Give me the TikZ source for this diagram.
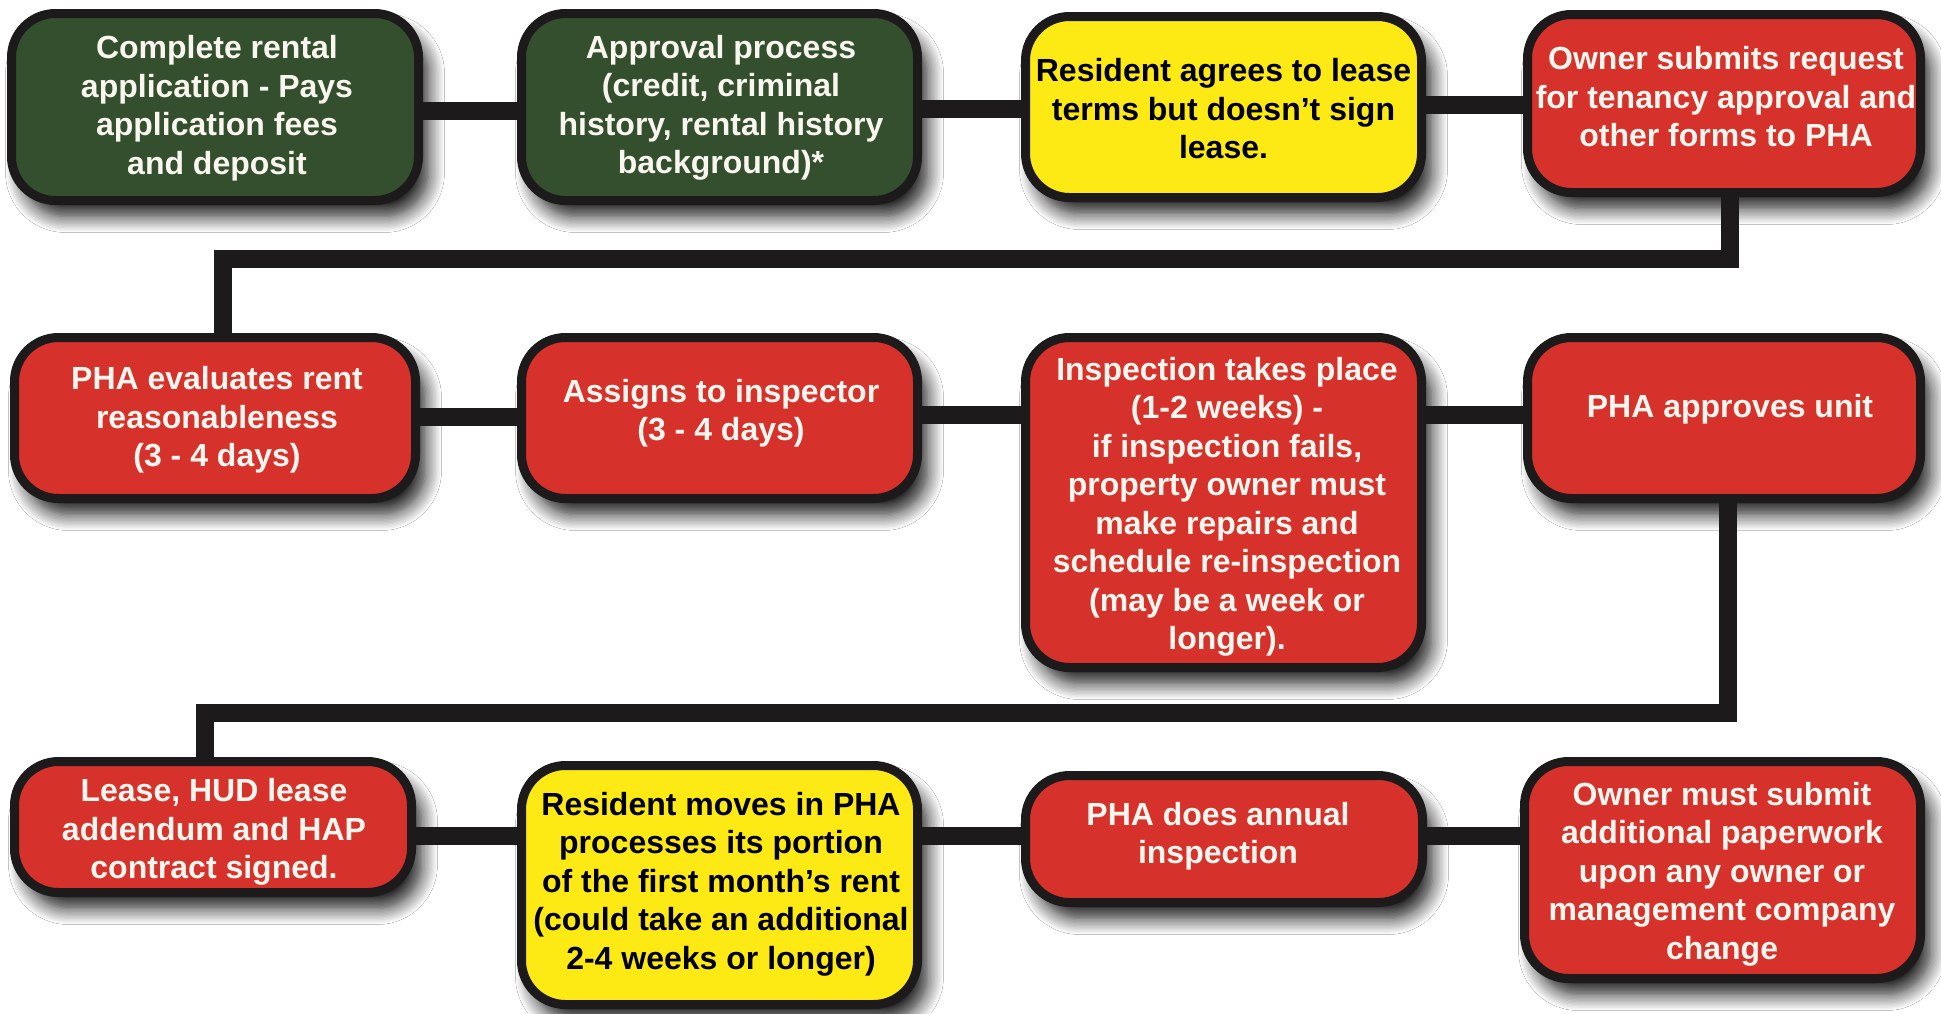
\documentclass[tikz,border=0pt]{standalone}
\usepackage{fontspec}
\setmainfont{Liberation Sans}
\usetikzlibrary{shadows.blur}
\definecolor{bgreen}{HTML}{344F2D}
\definecolor{bred}{HTML}{D6322B}
\definecolor{byellow}{HTML}{FDEA14}
\definecolor{bborder}{HTML}{1C1A1A}
\definecolor{btext}{HTML}{F8F6EE}
\tikzset{
  stepbox/.style={rectangle, rounded corners=22pt, draw=bborder, line width=4.5pt,
    inner sep=0pt,
    blur shadow={shadow xshift=5pt, shadow yshift=-8pt, shadow blur radius=8pt,
      shadow blur steps=12, shadow opacity=90}},
  greenbox/.style={stepbox, fill=bgreen},
  redbox/.style={stepbox, fill=bred},
  yellowbox/.style={stepbox, fill=byellow},
  lbl/.style={align=center, inner sep=0pt, yshift=-1.5pt, font=\bfseries\fontsize{16}{19.25}\selectfont, text=btext},
  dlbl/.style={lbl, text=black},
  conn/.style={draw=bborder, line width=9pt, line join=miter, line cap=butt}
}
\begin{document}
\begin{tikzpicture}[x=0.5pt, y=-0.5pt]
\useasboundingbox[fill=white] (0,0) rectangle (1941,1013);
% row 1
\node[greenbox, minimum width=203.5pt, minimum height=93.5pt] (b1) at (215,107) {};
\node[greenbox, minimum width=198pt, minimum height=93.5pt] (b2) at (719.5,107) {};
\node[yellowbox, minimum width=198pt, minimum height=90.5pt] (b3) at (1223.5,107) {};
\node[redbox, minimum width=196.5pt, minimum height=89pt] (b4) at (1724,103.5) {};
% row 2
\node[redbox, minimum width=200.5pt, minimum height=80.5pt] (b5) at (215,418) {};
\node[redbox, minimum width=198pt, minimum height=80.5pt] (b6) at (719.5,418) {};
\node[redbox, minimum width=198pt, minimum height=165pt] (b7) at (1223.5,502.5) {};
\node[redbox, minimum width=196.5pt, minimum height=80.5pt] (b8) at (1724,418) {};
% row 3
\node[redbox, minimum width=198.5pt, minimum height=65.5pt] (b9) at (213,827) {};
\node[yellowbox, minimum width=198pt, minimum height=119.5pt] (b10) at (719.5,885) {};
\node[redbox, minimum width=198.5pt, minimum height=63.5pt] (b11) at (1224,839) {};
\node[redbox, minimum width=198pt, minimum height=108.5pt] (b12) at (1722.5,870) {};

% connectors
\coordinate (y1a) at (0,111);
\coordinate (y1b) at (0,109);
\coordinate (y1c) at (0,105);
\coordinate (y2a) at (0,417);
\coordinate (y2b) at (0,415);
\coordinate (y3) at (0,836);
\coordinate (t1a) at (1730,259);
\coordinate (t1b) at (223,259);
\coordinate (t2a) at (1728,713);
\coordinate (t2b) at (205,713);
\draw[conn] (b1.east |- y1a) -- (b2.west |- y1a);
\draw[conn] (b2.east |- y1b) -- (b3.west |- y1b);
\draw[conn] (b3.east |- y1c) -- (b4.west |- y1c);
\draw[conn] (b4.south -| t1a) -- (t1a) -- (t1b) -- (b5.north -| t1b);
\draw[conn] (b5.east |- y2a) -- (b6.west |- y2a);
\draw[conn] (b6.east |- y2b) -- (b7.west |- y2b);
\draw[conn] (b7.east |- y2b) -- (b8.west |- y2b);
\draw[conn] (b8.south -| t2a) -- (t2a) -- (t2b) -- (b9.north -| t2b);
\draw[conn] (b9.east |- y3) -- (b10.west |- y3);
\draw[conn] (b10.east |- y3) -- (b11.west |- y3);
\draw[conn] (b11.east |- y3) -- (b12.west |- y3);

% labels
\node[lbl] (l1) at (217,105) {Complete rental\\application - Pays\\application fees\\and deposit};
\node[lbl] (l2) at (721,105) {Approval process\\(credit, criminal\\history, rental history\\background)*};
\node[dlbl] (l3) at (1223.5,106) {Resident agrees to lease\\terms but doesn’t sign\\lease.};
\node[lbl] (l4) at (1726,94) {Owner submits request\\for tenancy approval and\\other forms to PHA};
\node[lbl] (l5) at (217,417) {PHA evaluates rent\\reasonableness\\(3 - 4 days)};
\node[lbl] (l6) at (721,410) {Assigns to inspector\\(3 - 4 days)};
\node[lbl] (l7) at (1227,504) {Inspection takes place\\(1-2 weeks) -\\if inspection fails,\\property owner must\\make repairs and\\schedule re-inspection\\(may be a week or\\longer).};
\node[lbl] (l8) at (1730,406) {PHA approves unit};
\node[lbl] (l9) at (214,829) {Lease, HUD lease\\addendum and HAP\\contract signed.};
\node[dlbl] (l10) at (721,881) {Resident moves in PHA\\processes its portion\\of the first month’s rent\\(could take an additional\\2-4 weeks or longer)};
\node[lbl] (l11) at (1218,833) {PHA does annual\\inspection};
\node[lbl] (l12) at (1722,871) {Owner must submit\\additional paperwork\\upon any owner or\\management company\\change};
\end{tikzpicture}
\end{document}
